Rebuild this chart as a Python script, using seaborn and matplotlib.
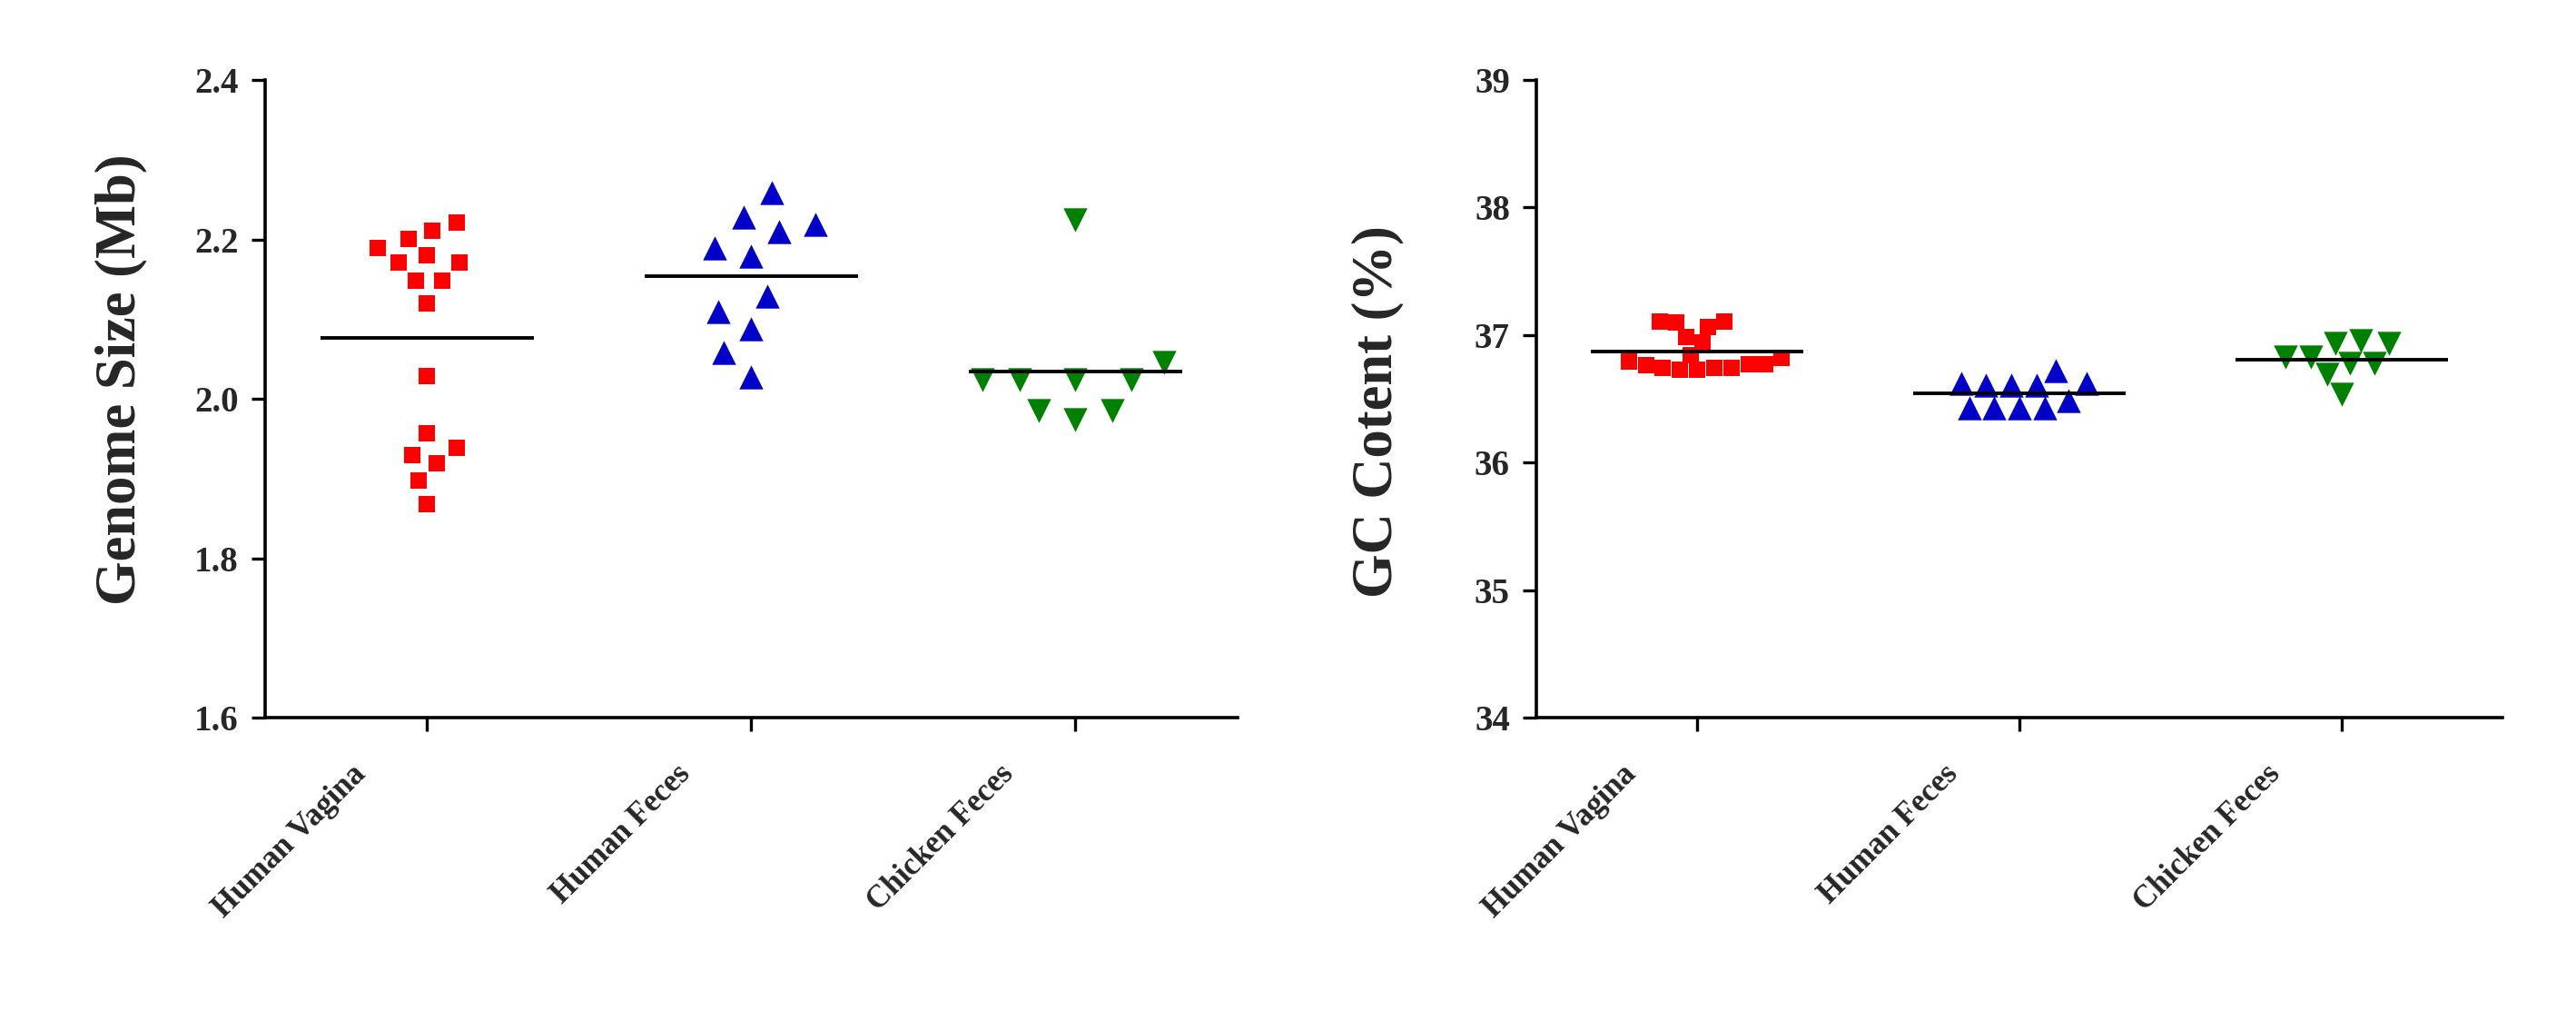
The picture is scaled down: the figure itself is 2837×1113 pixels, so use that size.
import numpy as np
import seaborn as sns
import matplotlib.pyplot as plt
from matplotlib.markers import MarkerStyle
from matplotlib.transforms import Affine2D, ScaledTranslation

# categories and styles
categories = ['Human Vagina', 'Human Feces', 'Chicken Feces']
colors = ['#FF0000', '#0000C8', '#008000']
markers = ['s', '^', 'v']
marker_sizes = [13, 19, 19]

# genome size (Mb)
hv_size = [2.221, 2.211, 2.201, 2.189, 2.180, 2.171, 2.171, 2.148, 2.148,
           2.120, 2.028, 1.957, 1.938, 1.929, 1.919, 1.897, 1.868]
hf_size = [2.259, 2.228, 2.219, 2.210, 2.189, 2.179, 2.129, 2.109, 2.088,
           2.058, 2.027]
cf_size = [2.224, 2.046, 2.024, 2.024, 2.024, 2.024, 1.985, 1.985, 1.974]

# GC content (%)
hv_gc = [37.107, 37.107, 37.095, 37.060, 36.988, 36.940, 36.845, 36.822,
         36.790, 36.774, 36.774, 36.762, 36.743, 36.739, 36.739, 36.727, 36.727]
hf_gc = [36.724, 36.618, 36.618, 36.605, 36.605, 36.605, 36.487, 36.427,
         36.427, 36.427, 36.427]
cf_gc = [36.956, 36.937, 36.937, 36.830, 36.830, 36.780, 36.780, 36.690, 36.533]

size_ticks = [1.6, 1.8, 2.0, 2.2, 2.4]
size_labels = ['1.6', '1.8', '2.0', '2.2', '2.4']
gc_ticks = [34, 35, 36, 37, 38, 39]
gc_labels = ['34', '35', '36', '37', '38', '39']

sns.set_style('ticks')
plt.rcParams['font.family'] = ['Liberation Serif', 'DejaVu Serif']
plt.rcParams['font.weight'] = 'bold'

fig = plt.figure(figsize=(28.37, 11.13), dpi=100)
ax1 = fig.add_axes([0.1029, 0.2902, 0.3775, 0.6307])
ax2 = fig.add_axes([0.5964, 0.2902, 0.3750, 0.6307])


def draw_panel(ax, groups, ticks, labels, ylabel, label_xy, spread=1.0):
    for i, vals in enumerate(groups):
        # the swarm spacing is set by the marker size; a shrunk marker path
        # keeps the visible mark the same while spacing points a bit wider
        mk = MarkerStyle(markers[i], transform=Affine2D().scale(1 / spread))
        sns.swarmplot(x=[categories[i]] * len(vals), y=vals, order=categories,
                      color=colors[i], marker=mk, size=marker_sizes[i] * spread,
                      linewidth=0, ax=ax)
        # mean line
        ax.hlines(np.mean(vals), i - 0.33, i + 0.33, color='black', lw=2.8, zorder=5)

    ax.set_xlim(-0.5, 2.5)
    ax.set_ylim(ticks[0], ticks[-1])
    ax.set_yticks(ticks)
    ax.set_yticklabels(labels)
    sns.despine(ax=ax)
    for side in ['left', 'bottom']:
        ax.spines[side].set_linewidth(2.6)
        ax.spines[side].set_color('black')

    ax.tick_params(axis='both', length=11, width=2.4, color='black', direction='out')
    ax.tick_params(axis='y', labelsize=28, pad=10)
    ax.tick_params(axis='x', labelsize=25, pad=22)
    ax.set_xlabel('')
    ax.set_ylabel(ylabel, fontsize=45, fontweight='bold')
    ax.yaxis.set_label_coords(*label_xy)

    shift = ScaledTranslation(-84 / 100, 0, fig.dpi_scale_trans)
    for lab in ax.get_xticklabels():
        lab.set_rotation(45)
        lab.set_ha('right')
        lab.set_va('top')
        lab.set_rotation_mode('anchor')
        lab.set_fontweight('bold')
        lab.set_transform(lab.get_transform() + shift)
    for lab in ax.get_yticklabels():
        lab.set_fontweight('bold')


draw_panel(ax1, [hv_size, hf_size, cf_size], size_ticks, size_labels,
           'Genome Size (Mb)', (-0.121, 0.53), spread=1.5)
draw_panel(ax2, [hv_gc, hf_gc, cf_gc], gc_ticks, gc_labels,
           'GC Cotent (%)', (-0.137, 0.48))

fig.savefig('out.png', dpi=100, facecolor='white')
